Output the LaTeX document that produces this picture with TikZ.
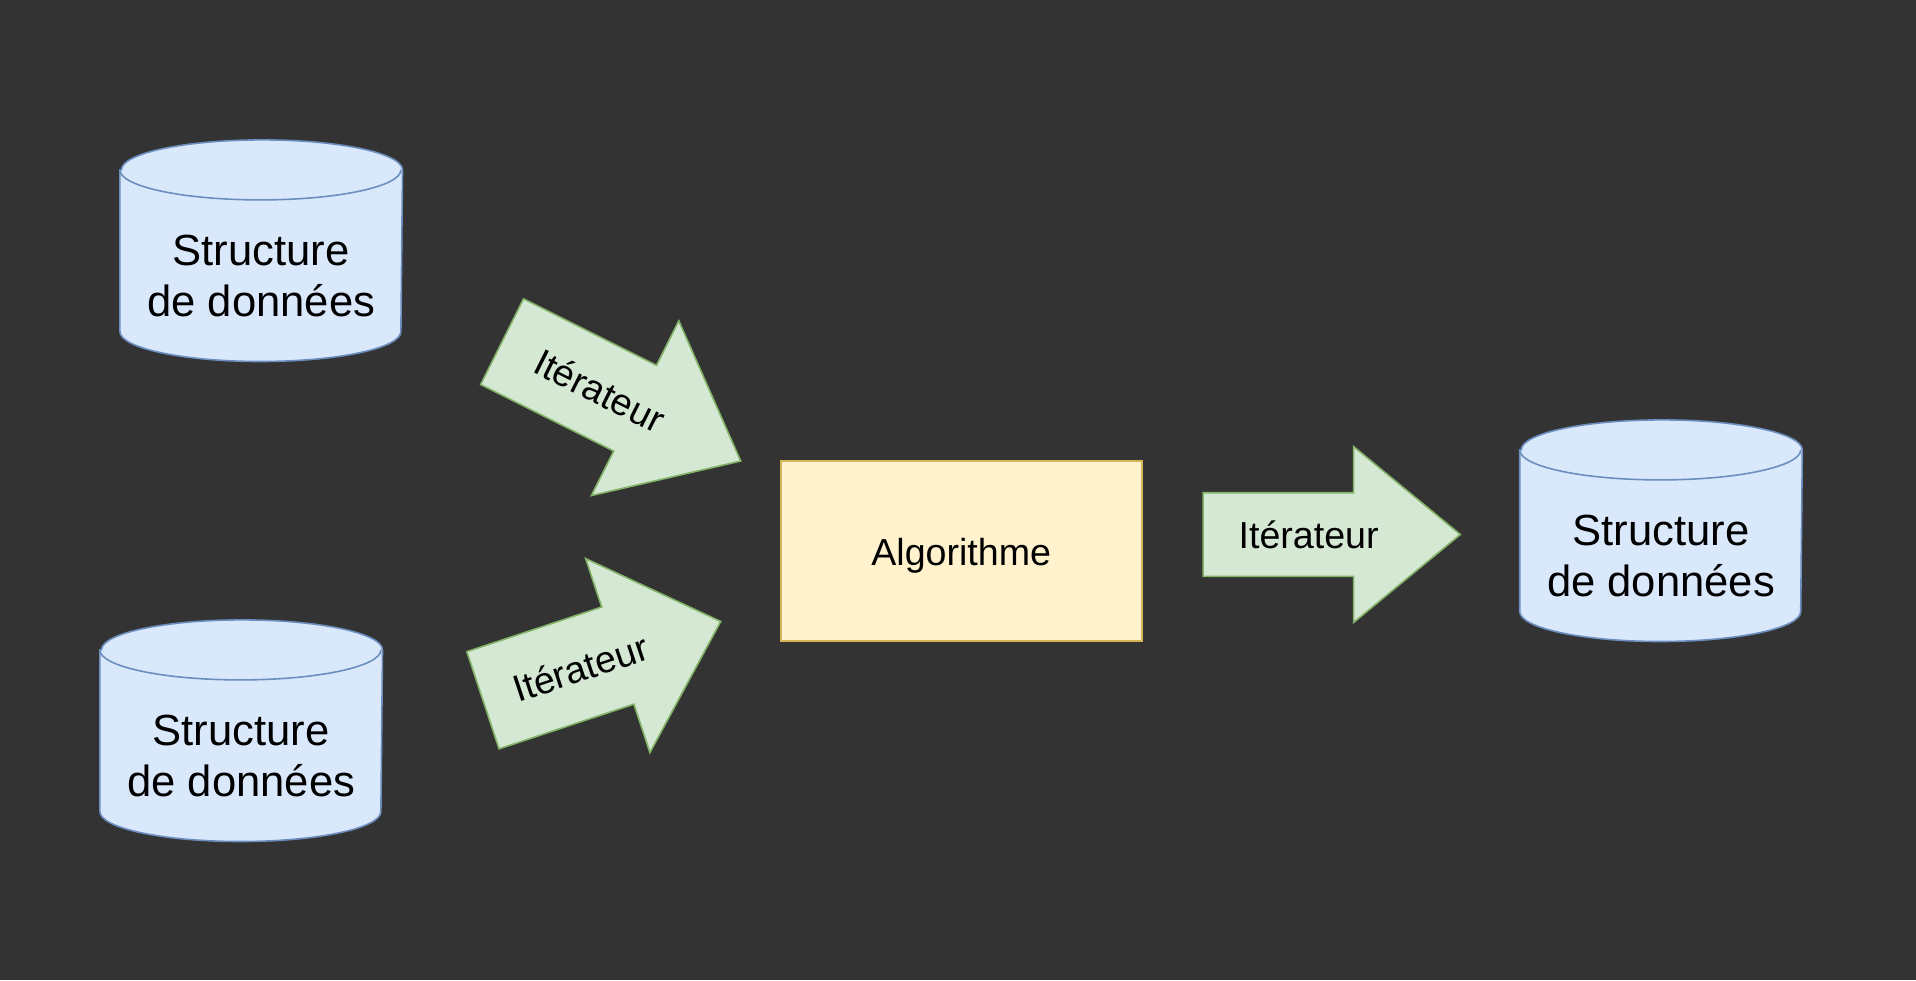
\documentclass[tikz,border=0pt]{standalone}
\usepackage{fontspec}
\setmainfont{Liberation Sans}
\usepackage{tikz}
\usetikzlibrary{calc,shapes.arrows}
\definecolor{bgdark}{HTML}{333333}
\definecolor{dbfill}{HTML}{DAE8FC}
\definecolor{dbline}{HTML}{6C8EBF}
\definecolor{algofill}{HTML}{FFF2CC}
\definecolor{algoline}{HTML}{D6B656}
\definecolor{iterfill}{HTML}{D5E8D4}
\definecolor{iterline}{HTML}{82B366}
\tikzset{
     db/.style = {rectangle, minimum width=140.5pt, minimum height=110pt, inner sep=0pt},
     db body/.style = {draw=dbline, fill=dbfill},
     db rim/.style = {x radius=70.25pt, y radius=15pt},
     db text/.style = {align=center, inner sep=0pt, font=\fontsize{21.8}{25.5}\selectfont},
     algo/.style = {rectangle, draw=algoline, fill=algofill, minimum width=180.5pt, minimum height=90.15pt,
                    font=\fontsize{18.8}{22}\selectfont, text height=18.8pt, text depth=4pt},
     iter/.style = {single arrow, draw=iterline, fill=iterfill, anchor=tail, inner xsep=0pt, minimum width=0pt},
     iter text/.style = {font=\fontsize{18.8}{22}\selectfont, inner sep=0pt},
    }

\begin{document}
\begin{tikzpicture}[x=0.5pt, y=-0.5pt, line width=0.8pt]
            \fill[bgdark] (0,0) rectangle (1916,980);

            \node [db] (db1) at (261.2,250.7)  {};
            \node [db] (db2) at (241.2,730.7)  {};
            \node [db] (db3) at (1661.0,530.7) {};

            \foreach \n in {db1,db2,db3} {
              \path [db body] ([yshift=-15pt]\n.north west) -- ([yshift=15pt]\n.south west)
                  arc [db rim, start angle=180, end angle=360] -- ([yshift=-15pt]\n.north east)
                  arc [db rim, start angle=0, end angle=180] -- cycle;
              \draw [dbline] ([yshift=-15pt]\n.north west) arc [db rim, start angle=180, end angle=360];
            }

            \node [db text] (t1) at ([yshift=-12.4pt]db1.center) {Structure\\de données};
            \node [db text] (t2) at ([yshift=-12.4pt]db2.center) {Structure\\de données};
            \node [db text] (t3) at ([yshift=-12.4pt]db3.center) {Structure\\de données};

            \node [algo] (algo) at (961.2,550.85) {Algorithme};

            \node [iter, rotate=-26.58, minimum height=133.4pt, inner ysep=23.55pt,
                   single arrow head extend=24.9pt, single arrow tip angle=79.2] (it1) at (501.4,341.3) {};
            \node [iter, rotate=18.33, minimum height=125.25pt, inner ysep=25.2pt,
                   single arrow head extend=25.5pt, single arrow tip angle=86.6] (it2) at (482.2,700.5) {};
            \node [iter, minimum height=128.6pt, inner ysep=20.5pt,
                   single arrow head extend=23.1pt, single arrow tip angle=79] (it3) at (1202.3,534.5) {};

            \node [iter text, rotate=-26.58] (l1) at ($(it1.tail)!0.41!(it1.tip)$) {Itérateur};
            \node [iter text, rotate=18.33]  (l2) at ($(it2.tail)!0.41!(it2.tip)$) {Itérateur};
            \node [iter text]                (l3) at ($(it3.tail)!0.41!(it3.tip)$) {Itérateur};
\end{tikzpicture}
\end{document}
